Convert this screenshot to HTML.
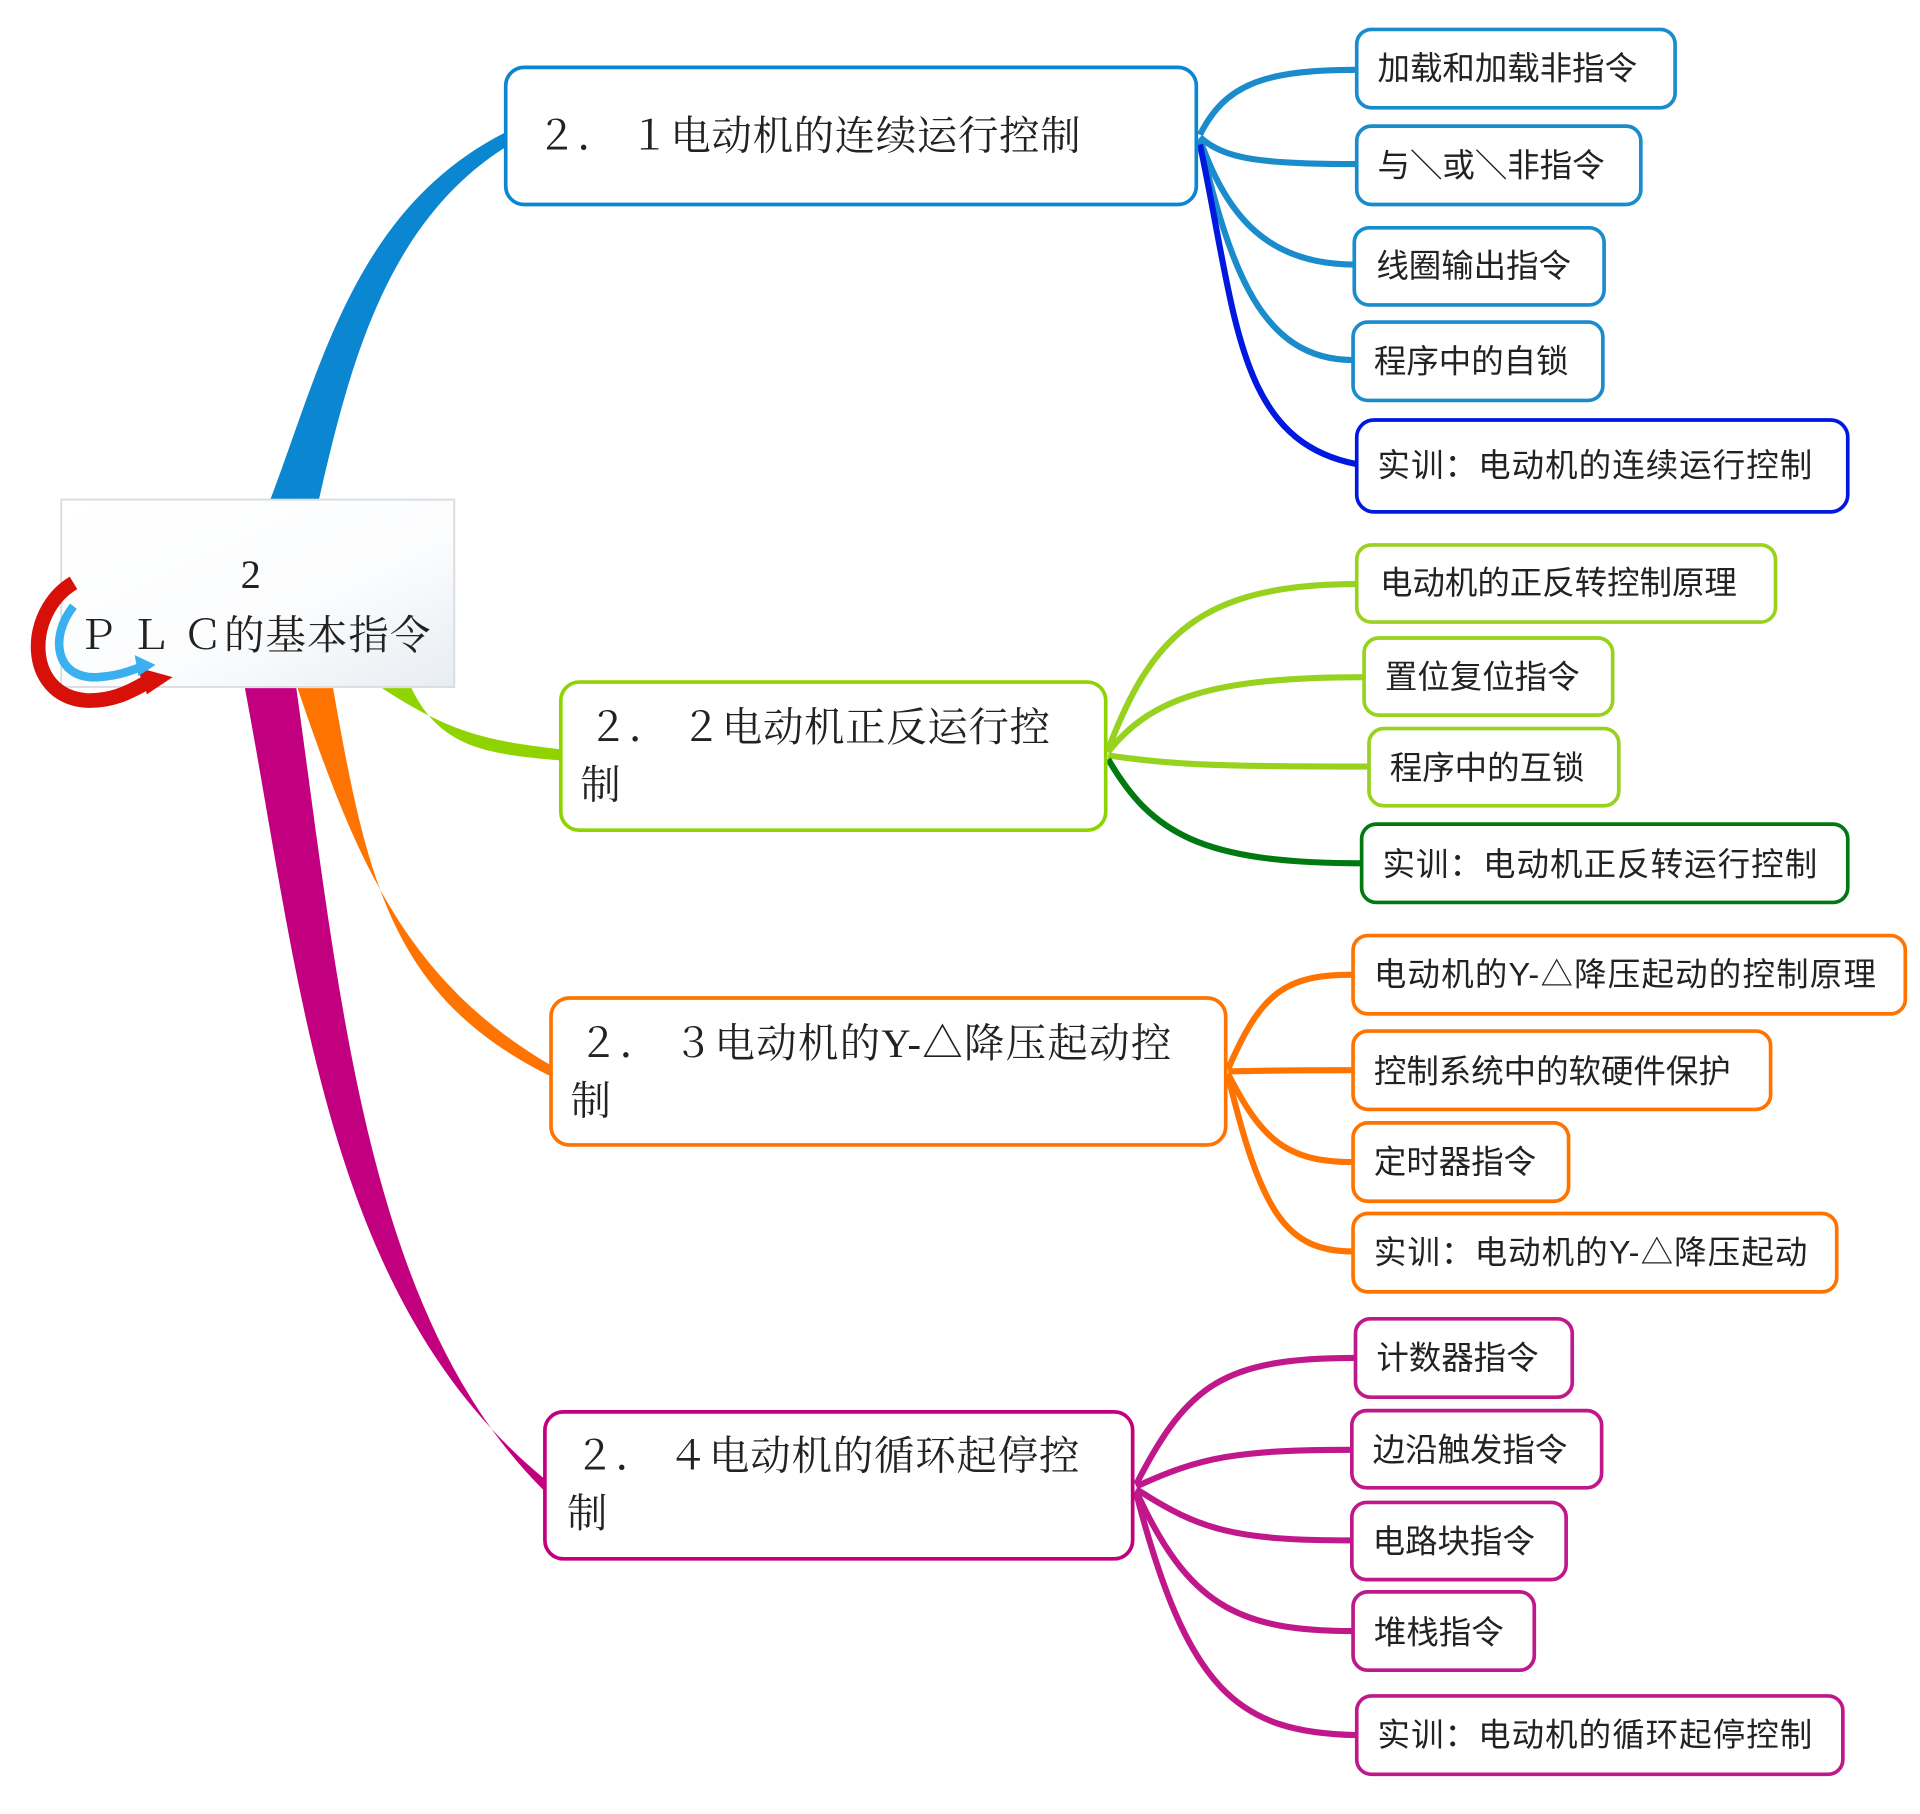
<!DOCTYPE html>
<html><head><meta charset="utf-8"><style>
html,body{margin:0;padding:0;background:#fff;}
svg{display:block}
.s{font-family:"Liberation Sans","Noto Sans CJK SC",sans-serif;font-size:26.5px;fill:#222}
.m{font-family:"Liberation Serif","Noto Serif CJK SC",serif;font-size:33px;fill:#222;letter-spacing:0.5px}
</style></head><body>
<svg width="1920" height="1814" viewBox="0 0 1568 1481.4" xmlns="http://www.w3.org/2000/svg">
<defs>
<linearGradient id="rg" x1="0" y1="0" x2="1" y2="1"><stop offset="0" stop-color="#fff"/><stop offset="0.6" stop-color="#fbfcfd"/><stop offset="1" stop-color="#e8edf2"/></linearGradient>
</defs>
<!-- main branches -->
<path d="M200,562 C245,800 265,1060 445,1208 L445,1218 C300,1075 278,820 242,562 Z" fill="#c2007f"/>
<path d="M243,562 C290,700 330,800 450,870 L450,879 C320,815 300,720 272,562 Z" fill="#ff7400"/>
<path d="M312,562 C370,600 400,605 458,612 L458,621 C400,616 360,612 336,562 Z" fill="#8fd400"/>
<path d="M220,410 C262,300 290,170 413,108 L413,120 C315,182 285,300 260,410 Z" fill="#0a87d0"/>
<!-- child connectors -->
<g fill="none" stroke-width="5">
<g stroke="#1a8ccc">
<path d="M980,110 C1000,70 1030,57 1108,57"/>
<path d="M980,112 C1000,130 1030,134 1108,134"/>
<path d="M980,114 C1000,170 1030,216 1106,216"/>
<path d="M980,116 C1005,220 1030,294 1105,294"/>
</g>
<path stroke="#0018e0" d="M980,118 C1010,260 1010,360 1108,379"/>
<g stroke="#96d21e">
<path d="M905,612 C940,520 980,477 1108,477"/>
<path d="M905,614 C940,570 990,553 1114,553"/>
<path d="M905,617 C960,625 1000,626 1118,626"/>
</g>
<path stroke="#007a10" d="M905,620 C940,680 980,705 1112,705"/>
<g stroke="#ff7400">
<path d="M1003,873 C1030,810 1050,796 1105,796"/>
<path d="M1003,875 C1040,874 1060,874 1105,874"/>
<path d="M1003,877 C1030,930 1050,949 1105,949"/>
<path d="M1003,879 C1030,990 1050,1022 1105,1022"/>
</g>
<g stroke="#c0188a">
<path d="M928,1212 C970,1130 1000,1109 1107,1109"/>
<path d="M928,1214 C980,1190 1010,1184 1104,1184"/>
<path d="M928,1216 C980,1250 1010,1258 1104,1258"/>
<path d="M928,1218 C970,1310 1010,1332 1105,1332"/>
<path d="M928,1220 C970,1380 1010,1415 1108,1417"/>
</g>
</g>
<!-- root -->
<rect x="50" y="408" width="321" height="153" fill="url(#rg)" stroke="#d8dce0" stroke-width="1.5"/>
<text x="205" y="480" text-anchor="middle" class="m">2</text>
<text x="63" y="530" class="m" textLength="289" lengthAdjust="spacing">Ｐ Ｌ Ｃ的基本指令</text>
<!-- arrows -->
<path d="M60,476 C20,500 20,568 70,572 C90,573 105,566 122,556" fill="none" stroke="#d8100a" stroke-width="12"/>
<path d="M112,545 L141,553 L120,567 Z" fill="#d8100a"/>
<path d="M60,495 C40,520 45,555 80,553 C95,552 108,548 118,543" fill="none" stroke="#3ab0f0" stroke-width="7"/>
<path d="M110,535 L127,543 L113,552 Z" fill="#3ab0f0"/>
<!-- main boxes -->
<g fill="#fff" stroke-width="3">
<rect x="413" y="55" width="564" height="112" rx="15" stroke="#0a87d0"/>
<rect x="458" y="557" width="445" height="121" rx="15" stroke="#8fd400"/>
<rect x="450" y="815" width="551" height="120" rx="15" stroke="#ff7400"/>
<rect x="445" y="1153" width="480" height="120" rx="15" stroke="#c2007f"/>
</g>
<text x="438" y="122" class="m" textLength="445" lengthAdjust="spacing">２． １电动机的连续运行控制</text>
<text x="480" y="605" class="m" textLength="378" lengthAdjust="spacing">２． ２电动机正反运行控</text>
<text x="474" y="652" class="m">制</text>
<text x="472" y="863" class="m" textLength="485" lengthAdjust="spacing">２． ３电动机的Y-△降压起动控</text>
<text x="466" y="910" class="m">制</text>
<text x="469" y="1200" class="m" textLength="413" lengthAdjust="spacing">２． ４电动机的循环起停控</text>
<text x="463" y="1247" class="m">制</text>
<!-- child boxes -->
<g fill="#fff" stroke-width="3">
<g stroke="#1a8ccc">
<rect x="1108" y="24" width="260" height="64" rx="12"/>
<rect x="1108" y="103" width="232" height="64" rx="12"/>
<rect x="1106" y="186" width="204" height="63" rx="12"/>
<rect x="1105" y="263" width="204" height="64" rx="12"/>
</g>
<rect x="1108" y="343" width="401" height="75" rx="14" stroke="#0018e0"/>
<g stroke="#96d21e">
<rect x="1108" y="445" width="342" height="63" rx="12"/>
<rect x="1114" y="521" width="203" height="63" rx="12"/>
<rect x="1118" y="595" width="204" height="63" rx="12"/>
</g>
<rect x="1112" y="673" width="397" height="64" rx="12" stroke="#007a10"/>
<g stroke="#ff7400">
<rect x="1105" y="764" width="451" height="64" rx="12"/>
<rect x="1105" y="842" width="341" height="64" rx="12"/>
<rect x="1105" y="917" width="176" height="64" rx="12"/>
<rect x="1105" y="991" width="395" height="64" rx="12"/>
</g>
<g stroke="#c0188a">
<rect x="1107" y="1077" width="177" height="64" rx="12"/>
<rect x="1104" y="1152" width="204" height="63" rx="12"/>
<rect x="1104" y="1227" width="175" height="63" rx="12"/>
<rect x="1105" y="1300" width="148" height="64" rx="12"/>
<rect x="1108" y="1385" width="397" height="64" rx="12"/>
</g>
</g>
<g class="s">
<text x="1125" y="65">加载和加载非指令</text>
<text x="1125" y="144">与＼或＼非指令</text>
<text x="1124" y="226">线圈输出指令</text>
<text x="1122" y="304">程序中的自锁</text>
<text x="1125" y="389" textLength="355" lengthAdjust="spacing">实训：电动机的连续运行控制</text>
<text x="1127" y="485">电动机的正反转控制原理</text>
<text x="1131" y="562">置位复位指令</text>
<text x="1135" y="636">程序中的互锁</text>
<text x="1129" y="715" textLength="355" lengthAdjust="spacing">实训：电动机正反转运行控制</text>
<text x="1122" y="805" textLength="410" lengthAdjust="spacing">电动机的Y-△降压起动的控制原理</text>
<text x="1122" y="884">控制系统中的软硬件保护</text>
<text x="1122" y="958">定时器指令</text>
<text x="1122" y="1032" textLength="354" lengthAdjust="spacing">实训：电动机的Y-△降压起动</text>
<text x="1124" y="1118">计数器指令</text>
<text x="1121" y="1193">边沿触发指令</text>
<text x="1121" y="1268">电路块指令</text>
<text x="1122" y="1342">堆栈指令</text>
<text x="1125" y="1426" textLength="355" lengthAdjust="spacing">实训：电动机的循环起停控制</text>
</g>
</svg>
</body></html>
